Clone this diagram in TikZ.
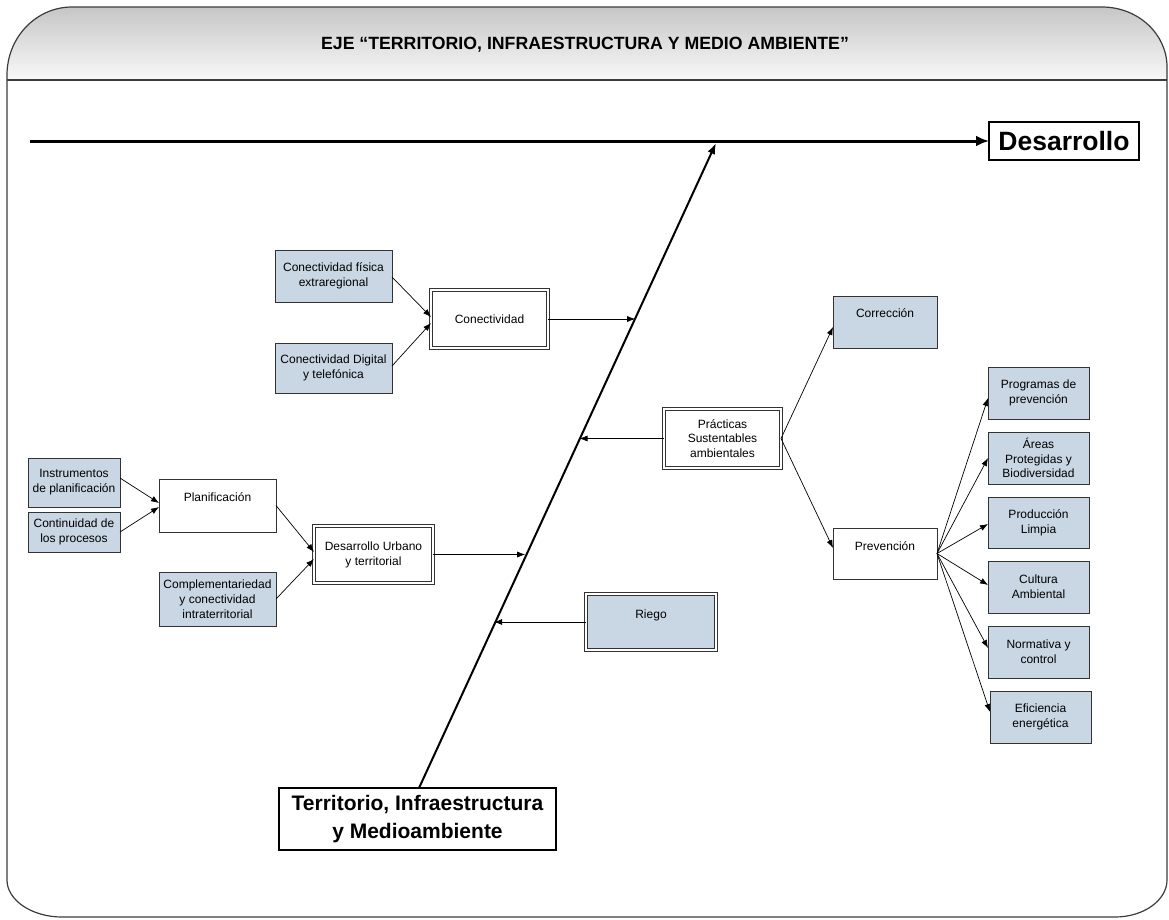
\documentclass[tikz,border=0pt]{standalone}
\usepackage{fontspec}
\setmainfont{Liberation Sans}
\usetikzlibrary{arrows.meta,calc}
\definecolor{boxblue}{RGB}{201,214,228}
\definecolor{hdrtop}{RGB}{198,198,198}
\definecolor{hdrbot}{RGB}{249,249,249}
\definecolor{framec}{RGB}{60,60,60}
\newcommand\toptxt[4]{\parbox[c][#1][t]{#2}{\centering\rule{0pt}{#3}#4}}
\begin{document}
\begin{tikzpicture}[x=1pt,y=-1pt,
  every node/.style={inner sep=0pt, outer sep=0pt, font=\fontsize{12}{14.8}\selectfont, align=center},
  bluebox/.style={draw=black!80, fill=boxblue, line width=0.9pt},
  whitebox/.style={draw=black!80, fill=white, line width=0.9pt},
  dbl/.style={double=white, double distance=1.6pt, line width=0.8pt},
  conn/.style={draw=black, line width=0.7pt, -{Latex[length=8pt,width=6pt]}},
]
\useasboundingbox (0,0) rectangle (1169,919);
% header and frame
\path[top color=hdrtop, bottom color=hdrbot] (7,80) -- (7,75) .. controls (7,37.5) and (36,7) .. (72,7) -- (1102,7) .. controls (1138,7) and (1167,34) .. (1167,67) -- (1167,80) -- cycle;
\draw[framec, line width=1.2pt] (7,75) .. controls (7,37.5) and (36,7) .. (72,7) -- (1102,7) .. controls (1138,7) and (1167,34) .. (1167,67) -- (1167,880) .. controls (1167,900) and (1144,917) .. (1115,917) -- (62,917) .. controls (31.6,917) and (7,900) .. (7,880) -- cycle;
\draw[framec, line width=1.5pt] (7,80) -- (1167,80);
\node (title) at (585,45) {\fontsize{17.7}{20}\selectfont\bfseries EJE “TERRITORIO, INFRAESTRUCTURA Y MEDIO AMBIENTE”};

% main axis
\node[draw=black, line width=2.5pt, minimum width=150pt, minimum height=38pt, font=\fontsize{26.5}{30}\selectfont\bfseries] (des) at (1064,141) {Desarrollo};
\coordinate (mstart) at (30,141);
\draw[line width=3pt, -{Latex[length=13pt,width=11pt]}] (mstart) -- (des.west);

\node[draw=black, line width=1.8pt, fill=white, minimum width=277pt, minimum height=62pt, font=\fontsize{21}{27.5}\selectfont\bfseries] (terr) at (417.5,819) {Territorio, Infraestructura\\y Medioambiente};
\coordinate (spt) at (716,143);
\draw[line width=2pt, -{Latex[length=11pt,width=8pt]}] ([xshift=1.5pt]terr.north) -- (spt);

% spine points
\coordinate (sconn) at ($(terr.north)!0.7294!(spt)$);
\coordinate (spra) at ($(terr.north)!0.5428!(spt)$);
\coordinate (sdur) at ($(terr.north)!0.3608!(spt)$);
\coordinate (srie) at ($(terr.north)!0.2566!(spt)$);

% Conectividad
\node[bluebox, minimum width=117pt, minimum height=52pt] (fis) at (333.5,276) {Conectividad física\\extraregional};
\node[bluebox, minimum width=117pt, minimum height=50pt] (dig) at (333.5,368) {Conectividad Digital\\y telefónica};
\node[whitebox, dbl, minimum width=117pt, minimum height=58pt] (con) at (489.5,319) {Conectividad};
\draw[conn] ([yshift=-1pt]fis.east) -- ([yshift=2pt]con.west);
\draw[conn] ([yshift=2pt]dig.east) -- ([yshift=-4pt]con.west);
\draw[conn] (con.east) -- (con.east -| sconn);

% Planificacion / Desarrollo urbano
\node[bluebox, minimum width=92pt, minimum height=49pt] (ins) at (74,482.5) {Instrumentos\\de planificación};
\node[bluebox, minimum width=92pt, minimum height=40pt] (cont) at (74,532) {Continuidad de\\los procesos};
\node[whitebox, minimum width=117pt, minimum height=53pt] (plan) at (217.5,505.5) {\toptxt{53pt}{117pt}{22pt}{Planificación}};
\node[bluebox, minimum width=117pt, minimum height=54pt] (comp) at (217.5,599) {Complementariedad\\y conectividad\\intraterritorial};
\node[whitebox, dbl, minimum width=119pt, minimum height=57pt] (dur) at (373.5,554.5) {Desarrollo Urbano\\y territorial};
\draw[conn] ([yshift=4.5pt]ins.east) -- ([yshift=2.5pt]plan.west);
\draw[conn] (cont.east) -- ([yshift=-1.5pt]plan.west);
\draw[conn] (plan.east) -- ([yshift=2.5pt]dur.west);
\draw[conn] (comp.east) -- ([yshift=-4.5pt]dur.west);
\draw[conn] (dur.east) -- (dur.east -| sdur);

% Riego
\node[bluebox, dbl, minimum width=130pt, minimum height=56pt] (riego) at (651,622) {\toptxt{56pt}{130pt}{24pt}{Riego}};
\draw[conn] (riego.west) -- (riego.west -| srie);

% Practicas
\node[whitebox, dbl, minimum width=117pt, minimum height=59pt] (pra) at (722.5,438.5) {Prácticas\\Sustentables\\ambientales};
\draw[conn] (pra.west) -- (pra.west -| spra);
\node[bluebox, minimum width=104pt, minimum height=52pt] (cor) at (885,322) {\toptxt{52pt}{104pt}{21pt}{Corrección}};
\node[whitebox, minimum width=104pt, minimum height=51pt] (prev) at (885,553.5) {\toptxt{51pt}{104pt}{22pt}{Prevención}};
\draw[conn] (pra.east) -- ([yshift=-5pt]cor.west);
\draw[conn] (pra.east) -- ([yshift=5.5pt]prev.west);

% Prevencion children
\node[bluebox, minimum width=101pt, minimum height=52pt] (prog) at (1038.5,393) {Programas de\\prevención};
\node[bluebox, minimum width=101pt, minimum height=52pt] (areas) at (1038.5,458) {Áreas\\Protegidas y\\Biodiversidad};
\node[bluebox, minimum width=101pt, minimum height=51pt] (prod) at (1038.5,522.5) {Producción\\Limpia};
\node[bluebox, minimum width=101pt, minimum height=52pt] (cult) at (1038.5,587) {Cultura\\Ambiental};
\node[bluebox, minimum width=101pt, minimum height=52pt] (norm) at (1038.5,652) {Normativa y\\control};
\node[bluebox, minimum width=101pt, minimum height=52pt] (efi) at (1040.5,717) {Eficiencia\\energética};
\draw[conn] (prev.east) -- ([yshift=-5pt]prog.west);
\draw[conn] (prev.east) -- (areas.west);
\draw[conn] (prev.east) -- ([yshift=-1.5pt]prod.west);
\draw[conn] (prev.east) -- ([yshift=2pt]cult.west);
\draw[conn] (prev.east) -- ([yshift=4pt]norm.west);
\draw[conn] (prev.east) -- ([yshift=5pt]efi.west);
\end{tikzpicture}
\end{document}
